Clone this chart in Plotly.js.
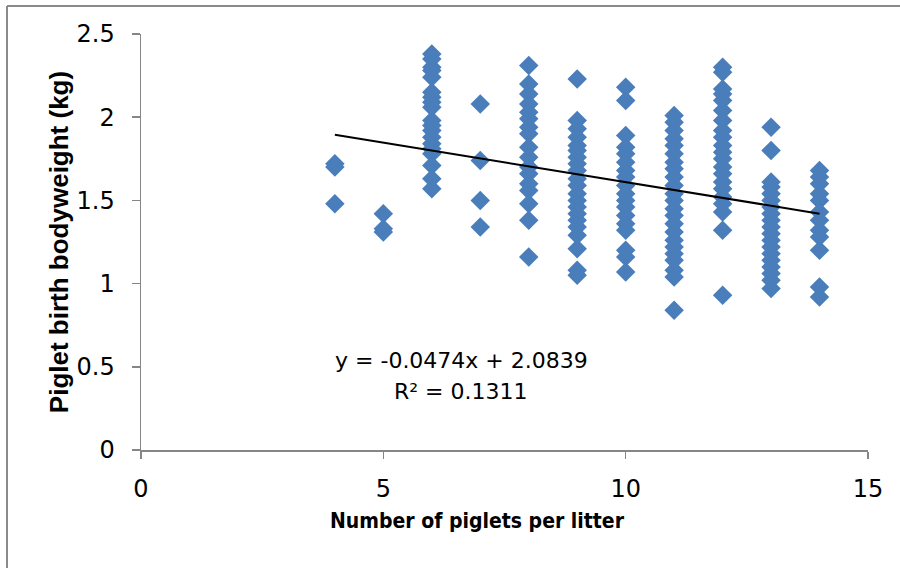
<!DOCTYPE html>
<html>
<head>
<meta charset="utf-8">
<script src="https://cdn.plot.ly/plotly-3.0.1.min.js"></script>
<style>html,body{margin:0;padding:0;background:#fff;}#chart{width:900px;height:568px;}</style>
</head>
<body>
<div id="chart"></div>
<script>
// Litter sizes (x categories) and piglet birth bodyweights (kg)
const litterSizes = [4, 5, 6, 7, 8, 9, 10, 11, 12, 13, 14];
const weights4  = [1.72, 1.70, 1.48];
const weights5  = [1.42, 1.33, 1.31];
const weights6  = [2.38, 2.35, 2.30, 2.28, 2.24, 2.15, 2.12, 2.09, 2.06, 1.98, 1.95, 1.92, 1.88, 1.84, 1.81, 1.78, 1.71, 1.63, 1.57];
const weights7  = [2.08, 1.74, 1.50, 1.34];
const weights8  = [2.31, 2.20, 2.14, 2.08, 2.03, 1.99, 1.94, 1.90, 1.82, 1.76, 1.70, 1.66, 1.60, 1.56, 1.48, 1.38, 1.16];
const weights9  = [2.23, 1.98, 1.93, 1.88, 1.83, 1.80, 1.76, 1.72, 1.68, 1.63, 1.59, 1.54, 1.50, 1.46, 1.42, 1.38, 1.34, 1.29, 1.21, 1.08, 1.05];
const weights10 = [2.18, 2.10, 1.89, 1.82, 1.78, 1.73, 1.68, 1.64, 1.59, 1.54, 1.50, 1.46, 1.41, 1.36, 1.32, 1.20, 1.16, 1.07];
const weights11 = [2.01, 1.97, 1.92, 1.87, 1.83, 1.78, 1.73, 1.69, 1.64, 1.59, 1.54, 1.50, 1.45, 1.41, 1.36, 1.31, 1.26, 1.22, 1.18, 1.14, 1.08, 1.04, 0.84];
const weights12 = [2.30, 2.27, 2.17, 2.14, 2.10, 2.04, 1.98, 1.92, 1.88, 1.83, 1.79, 1.75, 1.70, 1.66, 1.61, 1.57, 1.52, 1.48, 1.43, 1.32, 0.93];
const weights13 = [1.94, 1.80, 1.61, 1.58, 1.54, 1.50, 1.46, 1.42, 1.38, 1.34, 1.30, 1.26, 1.22, 1.18, 1.14, 1.10, 1.06, 1.02, 0.97];
const weights14 = [1.68, 1.64, 1.60, 1.54, 1.50, 1.43, 1.38, 1.32, 1.28, 1.20, 0.98, 0.92];

// Trendline as labelled on the chart
const trendSlope = -0.0474;
const trendIntercept = 2.0839;
const trendR2 = 0.1311;

const xTicks = [0, 5, 10, 15];
const yTicks = [0, 0.5, 1, 1.5, 2, 2.5];
const xTitle = 'Number of piglets per litter';
const yTitle = 'Piglet birth bodyweight (kg)';

const groups = [weights4, weights5, weights6, weights7, weights8, weights9, weights10, weights11, weights12, weights13, weights14];
const xs = [], ys = [];
groups.forEach((g, i) => g.forEach(v => { xs.push(litterSizes[i]); ys.push(v); }));

const xMin = Math.min(...litterSizes), xMax = Math.max(...litterSizes);

const scatter = {
  type: 'scatter', mode: 'markers', x: xs, y: ys,
  marker: {symbol: 'diamond', size: 15, color: '#4a7ebb', line: {width: 0}},
  hoverinfo: 'x+y', showlegend: false
};
const trend = {
  type: 'scatter', mode: 'lines',
  x: [xMin, xMax],
  y: [trendSlope * xMin + trendIntercept, trendSlope * xMax + trendIntercept],
  line: {color: '#000000', width: 2}, hoverinfo: 'skip', showlegend: false
};

const L = 141, R = 868, T = 34, B = 450;
const px = v => (v - L) / (R - L);
const py = v => (B - v) / (B - T);
const frameColor = '#8a8a8a';

const layout = {
  width: 900, height: 568,
  margin: {l: L, r: 900 - R, t: T, b: 568 - B, pad: 0},
  paper_bgcolor: '#ffffff', plot_bgcolor: '#ffffff',
  showlegend: false,
  font: {family: 'DejaVu Sans', color: '#000000'},
  xaxis: {
    range: [0, 15], tickvals: xTicks, ticktext: xTicks.map(String),
    showgrid: false, zeroline: false, showline: true, linecolor: '#868686', linewidth: 1.5,
    ticks: 'outside', ticklen: 7, tickwidth: 1.5, tickcolor: '#868686',
    tickfont: {family: 'DejaVu Sans', size: 24, color: '#000'}, ticklabelstandoff: 10,
    fixedrange: true
  },
  yaxis: {
    range: [0, 2.5], tickvals: yTicks, ticktext: yTicks.map(String),
    showgrid: false, zeroline: false, showline: true, linecolor: '#868686', linewidth: 1.5,
    ticks: 'outside', ticklen: 8, tickwidth: 1.5, tickcolor: '#868686',
    tickfont: {family: 'DejaVu Sans', size: 24, color: '#000'}, ticklabelstandoff: 12,
    title: {text: yTitle, font: {family: 'Liberation Sans', size: 26, color: '#000', weight: 'bold'}, standoff: 0},
    fixedrange: true
  },
  annotations: [
    {xref: 'paper', yref: 'paper', x: px(477), y: py(521), xanchor: 'center', yanchor: 'middle', showarrow: false,
     text: xTitle,
     font: {family: 'DejaVu Sans Condensed, DejaVu Sans', size: 21, color: '#000', weight: 'bold'}},
    {xref: 'x', yref: 'y', x: 6.61, y: 0.54, showarrow: false,
     text: 'y = ' + trendSlope.toFixed(4) + 'x + ' + trendIntercept.toFixed(4),
     font: {family: 'DejaVu Sans', size: 22, color: '#000'}},
    {xref: 'x', yref: 'y', x: 6.61, y: 0.35, showarrow: false,
     text: 'R² = ' + trendR2.toFixed(4),
     font: {family: 'DejaVu Sans', size: 22, color: '#000'}}
  ],
  shapes: [
    {type: 'line', xref: 'paper', yref: 'paper', x0: px(7), x1: px(7), y0: py(6), y1: py(575), line: {color: frameColor, width: 2}},
    {type: 'line', xref: 'paper', yref: 'paper', x0: px(7), x1: px(905), y0: py(6), y1: py(6), line: {color: frameColor, width: 2}}
  ]
};

Plotly.newPlot('chart', [scatter, trend], layout, {staticPlot: true, displayModeBar: false});
</script>
</body>
</html>
